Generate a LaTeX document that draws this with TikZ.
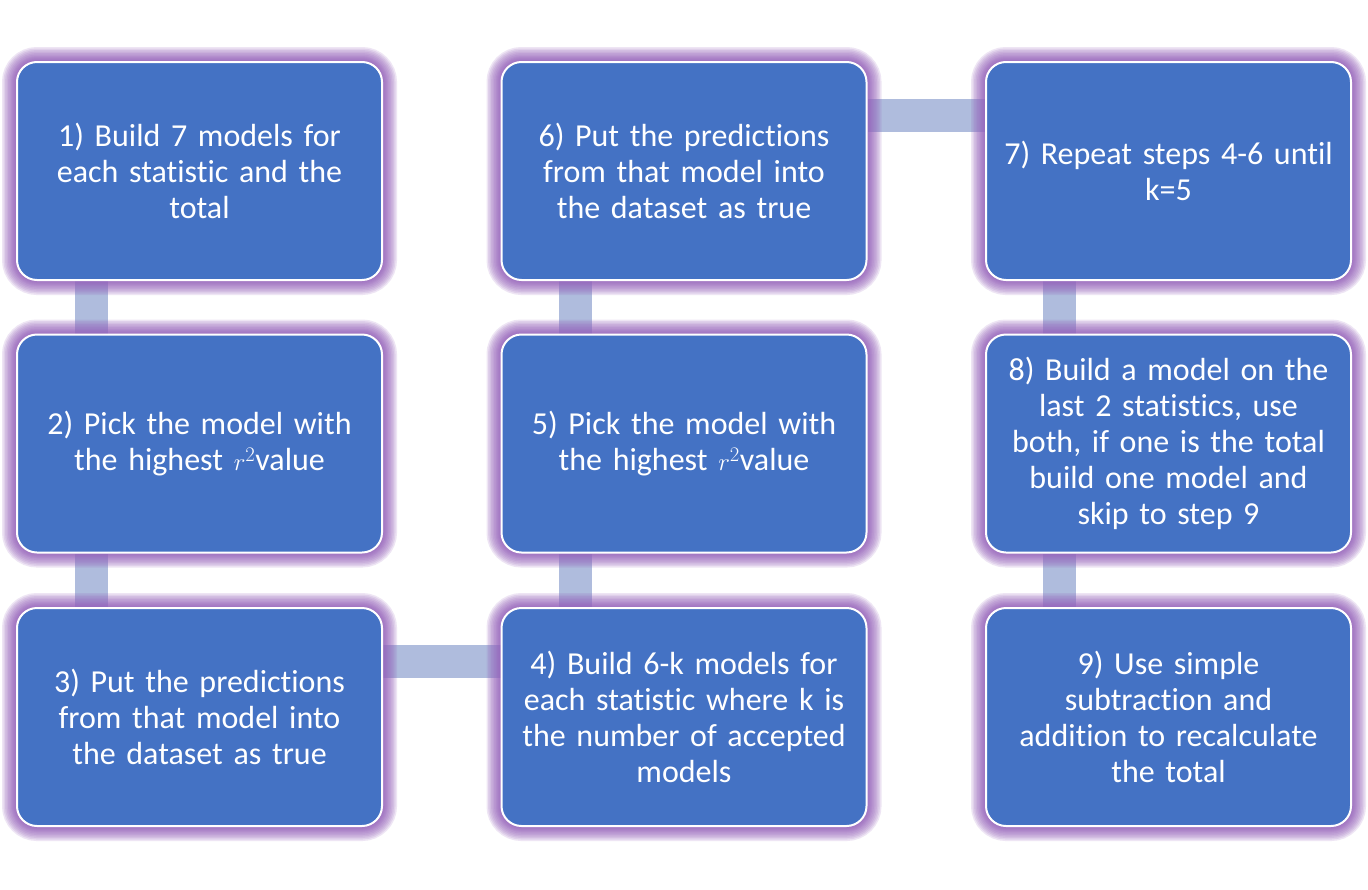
\documentclass[tikz,border=0pt]{standalone}
\usepackage{fontspec}
\setmainfont{Carlito}[Ligatures=CommonOff]
\definecolor{boxc}{HTML}{4472C4}
\definecolor{barc}{HTML}{AFBCDD}
\definecolor{glowc}{HTML}{9663BC}
\pgfdeclarelayer{bars}
\pgfsetlayers{bars,main}
\tikzset{glowring/.style={preaction={draw=glowc, line width=#1, draw opacity=0.16}}}
\begin{document}
\begin{tikzpicture}[x=1pt,y=-1pt,
  stepbox/.style={draw=white, line width=2pt, fill=boxc, rounded corners=20pt,
    minimum width=365pt, minimum height=218pt, text=white, align=center,
    font=\fontsize{32}{36}\selectfont, inner sep=0pt, text width=345pt,
    glowring=30pt, glowring=27pt, glowring=24pt, glowring=21pt, glowring=18pt,
    glowring=15pt, glowring=12pt, glowring=10pt, glowring=8pt, glowring=6pt,
    glowring=4pt},
  bar/.style={draw=barc, line width=33pt}]
\useasboundingbox (0,0) rectangle (1368,889);
\node[stepbox] (n1) at (199.5,171) {1) Build 7 models for\\each statistic and the\\total};
\node[stepbox] (n2) at (199.5,443.5) {2) Pick the model with\\the highest $r^2$value};
\node[stepbox] (n3) at (199.5,717) {3) Put the predictions\\from that model into\\the dataset as true};
\node[stepbox] (n4) at (684,717) {4) Build 6-k models for\\each statistic where k is\\the number of accepted\\models};
\node[stepbox] (n5) at (684,443.5) {5) Pick the model with\\the highest $r^2$value};
\node[stepbox] (n6) at (684,171) {6) Put the predictions\\from that model into\\the dataset as true};
\node[stepbox] (n7) at (1168.5,171) {7) Repeat steps 4-6 until\\k=5};
\node[stepbox] (n8) at (1168.5,443.5) {8) Build a model on the\\last 2 statistics, use\\both, if one is the total\\build one model and\\skip to step 9};
\node[stepbox] (n9) at (1168.5,717) {9) Use simple\\subtraction and\\addition to recalculate\\the total};
\begin{pgfonlayer}{bars}
\fill[white] (0,0) rectangle (1368,889);
\draw[bar] ([xshift=-108.5pt]n1.south) -- ([xshift=-108.5pt]n2.north);
\draw[bar] ([xshift=-108.5pt]n2.south) -- ([xshift=-108.5pt]n3.north);
\draw[bar] ([yshift=56pt]n3.east) -- ([yshift=56pt]n4.west);
\draw[bar] ([xshift=-109pt]n4.north) -- ([xshift=-109pt]n5.south);
\draw[bar] ([xshift=-109pt]n5.north) -- ([xshift=-109pt]n6.south);
\draw[bar] ([yshift=56pt]n6.east) -- ([yshift=56pt]n7.west);
\draw[bar] ([xshift=-109.5pt]n7.south) -- ([xshift=-109.5pt]n8.north);
\draw[bar] ([xshift=-109.5pt]n8.south) -- ([xshift=-109.5pt]n9.north);
\end{pgfonlayer}
\end{tikzpicture}
\end{document}
